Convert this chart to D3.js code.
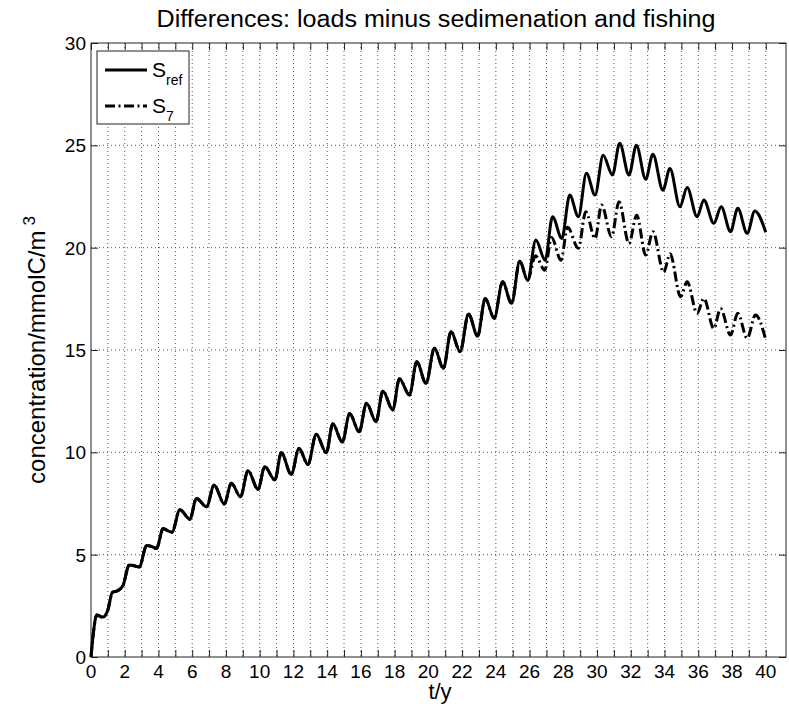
<!DOCTYPE html>
<html>
<head>
<meta charset="utf-8">
<script src="https://cdn.jsdelivr.net/npm/d3@7"></script>
<style>
  body { margin: 0; background: #fff; }
  text { font-family: "Liberation Sans", Arial, sans-serif; fill: #000; }
</style>
</head>
<body>
<svg id="chart" width="789" height="707"></svg>
<script>
// values (t in years, concentration in mmolC/m^3)
var tCommon = [0, 0.14, 0.34, 0.7, 1.0, 1.26, 1.6, 1.9, 2.27, 2.6, 2.86, 3.3, 3.65, 3.88, 4.28, 4.6, 4.8,
    5.27, 5.86, 6.25, 6.85, 7.3, 7.9, 8.32, 8.86, 9.31, 9.9, 10.3, 10.9, 11.28, 11.87, 12.33, 12.86,
    13.35, 13.95, 14.33, 14.9, 15.33, 15.9, 16.33, 16.9, 17.3, 17.89, 18.28, 18.88, 19.31, 19.86,
    20.36, 20.89, 21.34, 21.88, 22.38, 22.92, 23.37, 23.9, 24.4, 24.93, 25.42, 25.88]
var vCommon = [0, 1.17, 2.05, 1.95, 2.3, 3.15, 3.25, 3.5, 4.5, 4.45, 4.4, 5.45, 5.38, 5.3, 6.28, 6.15, 6.1,
    7.2, 6.73, 7.75, 7.34, 8.4, 7.47, 8.49, 7.83, 9.1, 8.19, 9.3, 8.65, 9.98, 8.92, 10.19, 9.41,
    10.88, 9.98, 11.4, 10.5, 11.9, 11.0, 12.4, 11.5, 13.0, 12.07, 13.6, 12.8, 14.43, 13.37,
    15.08, 14.1, 15.9, 14.92, 16.76, 15.68, 17.52, 16.55, 18.33, 17.28, 19.35, 18.4]

var tRefTail = [26.37, 26.92, 27.36, 27.91, 28.38, 28.89, 29.37, 29.88, 30.36, 30.91, 31.34, 31.89,
    32.33, 32.88, 33.31, 33.9, 34.32, 34.91, 35.34, 35.93, 36.33, 36.92, 37.36, 37.91, 38.34, 38.9, 39.35, 40]
var vRefTail = [20.37, 19.39, 21.51, 20.45, 22.57, 21.51, 23.63, 22.57, 24.52, 23.55, 25.1, 23.55,
    25.0, 23.34, 24.57, 22.81, 23.87, 22.0, 22.94, 21.51, 22.33, 21.19, 22.0, 20.78, 21.92, 20.7, 21.79, 20.75]

var tS7Tail = [26.35, 26.9, 27.3, 27.86, 28.25, 28.89, 29.33, 29.88, 30.27, 30.86, 31.3, 31.89,
    32.35, 32.88, 33.31, 33.95, 34.33, 34.95, 35.34, 35.93, 36.33, 36.92, 37.32, 37.91, 38.34, 38.9, 39.39, 40]
var vS7Tail = [19.6, 18.9, 20.5, 19.39, 21.0, 19.97, 21.76, 20.45, 22.08, 20.53, 22.24, 20.2,
    21.59, 19.64, 20.78, 18.8, 19.7, 17.6, 18.33, 16.79, 17.52, 16.05, 17.03, 15.73, 16.79, 15.57, 16.71, 15.5]

var xTicks = d3.range(0, 41, 1)
var xLabels = d3.range(0, 41, 2)
var yTicks = [0, 5, 10, 15, 20, 25, 30]

var title = "Differences: loads minus sedimenation and fishing"
var xTitle = "t/y"
var yTitle = "concentration/mmolC/m"
var legendNames = [["S", "ref"], ["S", "7"]]

var svg = d3.select("#chart")
var dims = { left: 91, right: 786, top: 43, bottom: 657 }

var xScale = d3.scaleLinear().domain([0, 41.2]).range([dims.left, dims.right])
var yScale = d3.scaleLinear().domain([0, 30]).range([dims.bottom, dims.top])

svg.append("rect").attr("width", 789).attr("height", 707).attr("fill", "#fff")

// grid
var grid = svg.append("g")
grid.selectAll(".vgrid").data(xTicks.filter(d => d > 0)).enter().append("line")
    .attr("x1", d => xScale(d)).attr("x2", d => xScale(d))
    .attr("y1", dims.top).attr("y2", dims.bottom)
    .attr("stroke", "#555").attr("stroke-width", 1).attr("stroke-dasharray", "1,3")
grid.selectAll(".hgrid").data(yTicks.filter(d => d > 0 && d < 30)).enter().append("line")
    .attr("x1", dims.left).attr("x2", dims.right)
    .attr("y1", d => yScale(d)).attr("y2", d => yScale(d))
    .attr("stroke", "#555").attr("stroke-width", 1).attr("stroke-dasharray", "1,3")

// axes (inward ticks, MATLAB box)
var tickLen = 7
svg.append("g").attr("transform", `translate(0,${dims.bottom})`)
   .call(d3.axisBottom(xScale).tickValues(xTicks).tickSizeInner(-tickLen).tickSizeOuter(0).tickFormat(""))
svg.append("g").attr("transform", `translate(0,${dims.top})`)
   .call(d3.axisTop(xScale).tickValues(xTicks).tickSizeInner(-tickLen).tickSizeOuter(0).tickFormat(""))
svg.append("g").attr("transform", `translate(${dims.left},0)`)
   .call(d3.axisLeft(yScale).tickValues(yTicks).tickSizeInner(-tickLen).tickSizeOuter(0).tickFormat(""))
svg.append("g").attr("transform", `translate(${dims.right},0)`)
   .call(d3.axisRight(yScale).tickValues(yTicks).tickSizeInner(-tickLen).tickSizeOuter(0).tickFormat(""))
svg.selectAll(".domain").remove()
svg.selectAll(".tick line").attr("stroke", "#222")

svg.append("rect")
   .attr("x", dims.left).attr("y", dims.top)
   .attr("width", dims.right - dims.left).attr("height", dims.bottom - dims.top)
   .attr("fill", "none").attr("stroke", "#222").attr("stroke-width", 1)

// tick labels
svg.append("g").selectAll("text").data(xLabels).enter().append("text")
   .attr("x", d => xScale(d)).attr("y", dims.bottom + 21)
   .attr("text-anchor", "middle").attr("font-size", 19)
   .text(d => d)
svg.append("g").selectAll("text").data(yTicks).enter().append("text")
   .attr("x", dims.left - 5).attr("y", d => yScale(d) + 7)
   .attr("text-anchor", "end").attr("font-size", 19)
   .text(d => d)

// lines
var line = d3.line()
    .x(d => xScale(d[0]))
    .y(d => yScale(d[1]))
    .curve(d3.curveMonotoneX)

var refData = d3.zip(tCommon.concat(tRefTail), vCommon.concat(vRefTail))
var s7Data = d3.zip(tCommon.concat(tS7Tail), vCommon.concat(vS7Tail))

svg.append("path").datum(refData)
   .attr("d", line).attr("fill", "none").attr("stroke", "#000")
   .attr("stroke-width", 3).attr("stroke-linejoin", "round")
svg.append("path").datum(s7Data)
   .attr("d", line).attr("fill", "none").attr("stroke", "#000")
   .attr("stroke-width", 3).attr("stroke-dasharray", "10,3.5,2,3.5")

// legend
var legend = svg.append("g")
legend.append("rect").attr("x", 97).attr("y", 51).attr("width", 92).attr("height", 73)
      .attr("fill", "#fff").attr("stroke", "#222").attr("stroke-width", 1)
var legendDash = ["none", "10,3.5,2,3.5"]
legendNames.forEach((name, i) => {
    var ly = 70 + i * 36
    legend.append("line").attr("x1", 105).attr("x2", 147).attr("y1", ly).attr("y2", ly)
          .attr("stroke", "#000").attr("stroke-width", 3).attr("stroke-dasharray", legendDash[i])
    var t = legend.append("text").attr("x", 152).attr("y", ly + 7).attr("font-size", 21)
    t.append("tspan").text(name[0])
    t.append("tspan").attr("font-size", 14).attr("dy", 8).text(name[1])
})

// titles
svg.append("text").attr("x", 436).attr("y", 27).attr("text-anchor", "middle")
   .attr("font-size", 23).attr("textLength", 559).attr("lengthAdjust", "spacingAndGlyphs")
   .text(title)
svg.append("text").attr("x", 440).attr("y", 699).attr("text-anchor", "middle")
   .attr("font-size", 22).text(xTitle)
var yl = svg.append("text").attr("text-anchor", "middle")
   .attr("transform", "translate(45,350) rotate(-90)").attr("font-size", 24)
yl.append("tspan").text(yTitle)
yl.append("tspan").attr("font-size", 17).attr("dy", -10).attr("dx", 5).text("3")
</script>
</body>
</html>
